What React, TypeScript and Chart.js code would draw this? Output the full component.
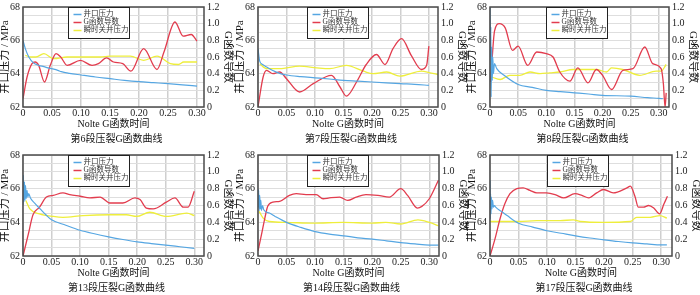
import React, { useEffect, useRef } from "react";
import { Chart, registerables } from "chart.js";

Chart.register(...registerables);

type Pt = [number, number];

const seriesNames = ["井口压力", "G函数导数", "瞬时关井压力"];
const stageTitles = [
  "第6段压裂G函数曲线",
  "第7段压裂G函数曲线",
  "第8段压裂G函数曲线",
  "第13段压裂G函数曲线",
  "第14段压裂G函数曲线",
  "第17段压裂G函数曲线",
];
const xAxisTitle = "Nolte G函数时间";
const leftAxisTitle = "井口压力 / MPa";
const rightAxisTitle = "G函数导数";
const xMaxes = [0.312, 0.316, 0.318, 0.317, 0.317, 0.319];

// ---- 第6段 ----
const stage6Pressure: Pt[] = [[0,66.0],[0.004,65.5],[0.01,65.0],[0.018,64.65],[0.027,64.5],[0.036,64.42],[0.045,64.33],[0.053,64.27],[0.06,64.2],[0.066,64.12],[0.08,64.02],[0.1,63.92],[0.125,63.8],[0.15,63.7],[0.175,63.6],[0.2,63.52],[0.225,63.46],[0.25,63.4],[0.275,63.33],[0.3,63.25]];
const stage6Deriv: Pt[] = [[0,0.1],[0.007,0.36],[0.0155,0.52],[0.021,0.54],[0.027,0.5],[0.037,0.3],[0.047,0.5],[0.057,0.64],[0.065,0.6],[0.076,0.5],[0.099,0.56],[0.119,0.5],[0.13,0.52],[0.144,0.59],[0.156,0.54],[0.172,0.52],[0.186,0.43],[0.208,0.7],[0.231,0.45],[0.243,0.66],[0.262,1.02],[0.276,0.85],[0.29,0.87],[0.3,0.79]];
const stage6Isip: Pt[] = [[0.004,65.1],[0.013,65.0],[0.022,65.0],[0.036,65.2],[0.053,64.9],[0.076,65.0],[0.133,65.0],[0.15,65.05],[0.185,65.05],[0.208,64.8],[0.231,65.05],[0.254,64.6],[0.268,64.55],[0.277,64.7],[0.3,64.7]];

// ---- 第7段 ----
const stage7Pressure: Pt[] = [[0,65.5],[0.003,64.75],[0.008,64.55],[0.015,64.4],[0.025,64.2],[0.038,64.02],[0.05,63.92],[0.075,63.82],[0.1,63.75],[0.125,63.68],[0.15,63.6],[0.175,63.55],[0.2,63.5],[0.225,63.45],[0.25,63.4],[0.275,63.36],[0.3,63.3]];
const stage7Deriv: Pt[] = [[0,0],[0.009,0.36],[0.015,0.44],[0.026,0.4],[0.038,0.42],[0.05,0.34],[0.073,0.18],[0.097,0.28],[0.129,0.38],[0.144,0.24],[0.155,0.13],[0.173,0.3],[0.19,0.51],[0.208,0.63],[0.223,0.51],[0.237,0.7],[0.252,0.82],[0.269,0.62],[0.287,0.45],[0.296,0.5],[0.3,0.73]];
const stage7Isip: Pt[] = [[0.003,64.6],[0.015,64.3],[0.038,64.3],[0.073,64.45],[0.103,64.35],[0.126,64.3],[0.155,64.5],[0.185,64.15],[0.202,64.0],[0.226,64.1],[0.249,63.85],[0.287,64.15],[0.302,64.05],[0.316,63.95]];

// ---- 第8段 ----
const stage8Pressure: Pt[] = [[0,68],[0.0008,65.0],[0.0015,66.8],[0.002,62.6],[0.003,65.6],[0.004,63.6],[0.005,65.0],[0.006,64.0],[0.008,64.6],[0.012,64.3],[0.025,63.9],[0.05,63.35],[0.075,63.18],[0.1,63.0],[0.125,62.92],[0.15,62.85],[0.175,62.78],[0.2,62.7],[0.25,62.65],[0.28,62.56],[0.3,62.52],[0.307,62.5]];
const stage8Deriv: Pt[] = [[0.001,0.3],[0.004,0.6],[0.008,0.91],[0.0165,1.0],[0.027,0.95],[0.04,0.68],[0.05,0.73],[0.067,0.5],[0.083,0.66],[0.1,0.64],[0.112,0.6],[0.124,0.42],[0.142,0.31],[0.156,0.47],[0.174,0.29],[0.189,0.45],[0.2,0.38],[0.216,0.21],[0.236,0.44],[0.254,0.46],[0.275,0.72],[0.289,0.52],[0.304,0.46],[0.308,0.28],[0.311,0.0],[0.313,0.17]];
const stage8Isip: Pt[] = [[0.003,63.8],[0.018,63.65],[0.035,63.9],[0.053,63.9],[0.071,64.1],[0.089,64.0],[0.106,64.05],[0.124,64.1],[0.148,64.25],[0.165,64.25],[0.189,64.25],[0.207,64.1],[0.216,64.35],[0.236,64.25],[0.266,63.9],[0.295,64.15],[0.304,64.15],[0.313,64.55]];

// ---- 第13段 ----
const stage13Pressure: Pt[] = [[0,65.0],[0.0007,66.8],[0.0015,65.2],[0.0025,66.4],[0.0035,65.3],[0.0045,66.2],[0.0055,65.4],[0.007,65.9],[0.0085,65.5],[0.01,65.7],[0.013,65.45],[0.02,65.15],[0.03,64.8],[0.04,64.45],[0.05,64.15],[0.075,63.83],[0.1,63.53],[0.125,63.32],[0.15,63.14],[0.175,62.98],[0.2,62.84],[0.225,62.74],[0.25,62.65],[0.275,62.55],[0.3,62.45]];
const stage13Deriv: Pt[] = [[0,0],[0.009,0.25],[0.0175,0.49],[0.029,0.58],[0.041,0.7],[0.053,0.72],[0.07,0.75],[0.082,0.73],[0.1,0.71],[0.117,0.69],[0.135,0.7],[0.152,0.63],[0.175,0.63],[0.196,0.69],[0.205,0.67],[0.216,0.57],[0.228,0.56],[0.251,0.64],[0.266,0.69],[0.281,0.58],[0.289,0.58],[0.3,0.77]];
const stage13Isip: Pt[] = [[0.005,65.3],[0.012,64.8],[0.029,64.5],[0.053,64.35],[0.07,64.3],[0.105,64.4],[0.152,64.45],[0.181,64.45],[0.199,64.35],[0.222,64.6],[0.251,64.35],[0.287,64.55],[0.3,64.4]];

// ---- 第14段 ----
const stage14Pressure: Pt[] = [[0,66.0],[0.0006,64.9],[0.0012,65.9],[0.002,64.7],[0.003,65.6],[0.004,64.8],[0.005,65.3],[0.006,64.7],[0.008,65.0],[0.01,64.75],[0.02,64.55],[0.03,64.35],[0.05,64.0],[0.075,63.7],[0.1,63.45],[0.125,63.3],[0.15,63.2],[0.175,63.08],[0.2,63.0],[0.225,62.9],[0.25,62.8],[0.275,62.72],[0.3,62.65],[0.316,62.65]];
const stage14Deriv: Pt[] = [[0,0.06],[0.006,0.25],[0.012,0.45],[0.017,0.59],[0.026,0.64],[0.038,0.65],[0.055,0.72],[0.067,0.74],[0.084,0.73],[0.102,0.73],[0.114,0.68],[0.125,0.69],[0.143,0.7],[0.157,0.66],[0.172,0.7],[0.189,0.73],[0.21,0.72],[0.23,0.7],[0.25,0.8],[0.262,0.72],[0.279,0.57],[0.287,0.59],[0.3,0.68],[0.316,0.9]];
const stage14Isip: Pt[] = [[0.002,64.65],[0.009,64.25],[0.02,64.05],[0.05,64.0],[0.096,63.95],[0.149,64.0],[0.2,63.95],[0.224,64.0],[0.25,63.9],[0.28,64.15],[0.3,64.0],[0.316,63.8]];

// ---- 第17段 ----
const stage17Pressure: Pt[] = [[0,66.5],[0.0005,64.2],[0.001,65.7],[0.0018,64.5],[0.0025,65.5],[0.0035,64.8],[0.0045,65.3],[0.006,64.9],[0.008,65.0],[0.01,64.9],[0.02,64.65],[0.03,64.4],[0.05,63.95],[0.075,63.72],[0.1,63.5],[0.125,63.35],[0.15,63.2],[0.175,63.07],[0.2,62.96],[0.225,62.86],[0.25,62.78],[0.275,62.72],[0.3,62.66],[0.31,62.66]];
const stage17Deriv: Pt[] = [[0,0],[0.009,0.21],[0.0175,0.44],[0.026,0.62],[0.035,0.74],[0.047,0.8],[0.058,0.81],[0.07,0.78],[0.082,0.75],[0.099,0.75],[0.114,0.73],[0.129,0.69],[0.149,0.74],[0.161,0.72],[0.173,0.69],[0.187,0.75],[0.199,0.79],[0.216,0.75],[0.24,0.81],[0.246,0.83],[0.254,0.71],[0.26,0.58],[0.269,0.58],[0.278,0.6],[0.287,0.57],[0.297,0.5],[0.305,0.62],[0.311,0.71]];
const stage17Isip: Pt[] = [[0,64.05],[0.05,64.05],[0.082,64.1],[0.123,64.1],[0.146,64.15],[0.158,64.05],[0.199,64.0],[0.246,64.05],[0.257,64.3],[0.281,64.3],[0.298,64.4],[0.31,64.25]];

const pressures = [stage6Pressure, stage7Pressure, stage8Pressure, stage13Pressure, stage14Pressure, stage17Pressure];
const derivs = [stage6Deriv, stage7Deriv, stage8Deriv, stage13Deriv, stage14Deriv, stage17Deriv];
const isips = [stage6Isip, stage7Isip, stage8Isip, stage13Isip, stage14Isip, stage17Isip];

// ---- layout (plot-area rectangles in page pixels) ----
const panelRects = [
  { L: 23, R: 204, T: 6, B: 107, legendOffset: 45 },
  { L: 258, R: 438, T: 6, B: 107, legendOffset: 49 },
  { L: 490, R: 669, T: 6, B: 107, legendOffset: 56 },
  { L: 23, R: 204, T: 154, B: 256, legendOffset: 45 },
  { L: 258, R: 439, T: 154, B: 256, legendOffset: 49 },
  { L: 490, R: 672, T: 154, B: 256, legendOffset: 57 },
];

const FONT = "'Liberation Serif', 'Noto Sans CJK SC', serif";
const BLUE = "#55a6e2";
const RED = "#e23c4e";
const YELLOW = "#eeee3c";

const framePlugin = {
  id: "frameLegend",
  afterDatasetsDraw(chart: any, _args: any, opts: any) {
    const { ctx, chartArea } = chart;
    ctx.save();
    ctx.strokeStyle = "#4a4a4a";
    ctx.lineWidth = 1.5;
    ctx.strokeRect(chartArea.left, chartArea.top, chartArea.right - chartArea.left, chartArea.bottom - chartArea.top);
    const x = Math.round(chartArea.left + opts.offset) + 0.5;
    const y = Math.round(chartArea.top) + 0.5;
    const w = 61;
    const h = 31;
    ctx.fillStyle = "#fff";
    ctx.fillRect(x, y, w, h);
    ctx.strokeStyle = "#222";
    ctx.lineWidth = 1;
    ctx.strokeRect(x, y, w, h);
    ctx.font = `7.5px ${FONT}`;
    ctx.textBaseline = "middle";
    ctx.textAlign = "left";
    chart.data.datasets.forEach((ds: any, i: number) => {
      const yy = y + 7 + i * 8;
      ctx.strokeStyle = ds.borderColor;
      ctx.lineWidth = 1.5;
      ctx.beginPath();
      ctx.moveTo(x + 5, yy);
      ctx.lineTo(x + 13, yy);
      ctx.stroke();
      ctx.fillStyle = "#333";
      ctx.fillText(ds.label, x + 15, yy);
    });
    ctx.restore();
  },
};

function Panel({ idx }: { idx: number }) {
  const ref = useRef<HTMLCanvasElement>(null);
  const r = panelRects[idx];
  const left = r.L - 24;
  const top = r.T - 8;
  const width = r.R - r.L + 54;
  const height = r.B - r.T + 48;

  useEffect(() => {
    if (!ref.current) return;
    const toXY = (a: Pt[]) => a.map(([x, y]) => ({ x, y }));
    const chart = new Chart(ref.current, {
      type: "line",
      data: {
        datasets: [
          { label: seriesNames[0], data: toXY(pressures[idx]), borderColor: BLUE, borderWidth: 1.2, yAxisID: "y", pointRadius: 0, cubicInterpolationMode: "monotone" },
          { label: seriesNames[1], data: toXY(derivs[idx]), borderColor: RED, borderWidth: 1.3, yAxisID: "y1", pointRadius: 0, cubicInterpolationMode: "monotone" },
          { label: seriesNames[2], data: toXY(isips[idx]), borderColor: YELLOW, borderWidth: 1.3, yAxisID: "y", pointRadius: 0, cubicInterpolationMode: "monotone" },
        ],
      } as any,
      options: {
        responsive: false,
        maintainAspectRatio: false,
        animation: false,
        devicePixelRatio: 1,
        layout: { padding: { top: 8, left: 0, right: 0, bottom: 0 } },
        plugins: {
          legend: { display: false },
          tooltip: { enabled: false },
          title: {
            display: true,
            position: "bottom",
            text: stageTitles[idx],
            color: "#111",
            font: { family: FONT, size: 10, weight: "normal" as any },
            padding: { top: 2, bottom: 2 },
          },
          frameLegend: { offset: r.legendOffset },
        } as any,
        scales: {
          x: {
            type: "linear",
            min: 0,
            max: xMaxes[idx],
            border: { display: false },
            grid: { color: "#cfcfcf", lineWidth: 1.5, drawTicks: false },
            ticks: {
              stepSize: 0.05,
              includeBounds: false,
              padding: 0,
              color: "#222",
              font: { family: FONT, size: 10 },
              maxRotation: 0,
              callback: (v: any) => (Number(v) === 0 ? "0" : Number(v).toFixed(2)),
            },
            title: {
              display: true,
              text: xAxisTitle,
              color: "#111",
              font: { family: FONT, size: 10 },
              padding: { top: 0, bottom: 1 },
            },
            afterFit: (s: any) => { s.height = 24; },
          },
          y: {
            type: "linear",
            position: "left",
            min: 62,
            max: 68,
            border: { display: false },
            grid: { display: false, drawTicks: false },
            ticks: {
              stepSize: 2,
              padding: 3,
              color: "#222",
              font: { family: FONT, size: 10 },
            },
            title: {
              display: true,
              text: leftAxisTitle,
              color: "#111",
              font: { family: FONT, size: 11 },
              padding: { top: 0, bottom: 0 },
            },
            afterFit: (s: any) => { s.width = 24; },
          },
          y1: {
            type: "linear",
            position: "right",
            min: 0,
            max: 1.2,
            border: { display: false },
            grid: { color: "#dedede", lineWidth: 1, drawTicks: false },
            ticks: {
              stepSize: 0.1,
              maxTicksLimit: 20,
              autoSkip: false,
              padding: 3,
              color: "#222",
              font: { family: FONT, size: 10 },
              callback: (v: any) => {
                const n = Math.round(Number(v) * 10);
                if (n === 0) return "0";
                return n % 2 === 0 ? (n / 10).toFixed(1) : "";
              },
            },
            title: {
              display: true,
              text: rightAxisTitle,
              color: "#111",
              font: { family: FONT, size: 11 },
              padding: { top: 0, bottom: 0 },
            },
            afterFit: (s: any) => { s.width = 30; },
          },
        } as any,
      },
      plugins: [framePlugin as any],
    });
    return () => chart.destroy();
  }, [idx]);

  return (
    <canvas
      ref={ref}
      width={width}
      height={height}
      style={{ position: "absolute", left, top, width, height }}
    />
  );
}

export default function App() {
  return (
    <div
      style={{
        position: "fixed",
        left: 0,
        top: 0,
        width: 700,
        height: 295,
        background: "#fff",
        overflow: "hidden",
      }}
    >
      {panelRects.map((_, i) => (
        <Panel key={i} idx={i} />
      ))}
    </div>
  );
}
